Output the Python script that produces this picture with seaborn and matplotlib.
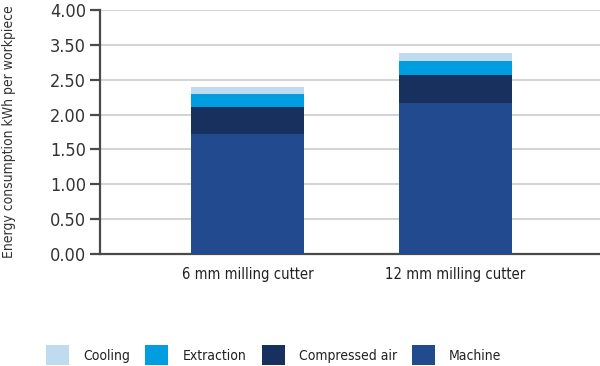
import pandas as pd
import matplotlib.pyplot as plt
import seaborn as sns
from matplotlib.patches import Patch

cutters = ['6 mm milling cutter', '12 mm milling cutter']
machine = [1.72, 2.16]
compressed_air = [0.39, 0.41]
extraction = [0.19, 0.20]
cooling = [0.09, 0.11]

tick_values = [0, 0.5, 1.0, 1.5, 2.0, 2.5, 3.0, 3.5]
tick_labels = ['0.00', '0.50', '1.00', '1.50', '2.00', '2.50', '3.50', '4.00']

series = ['Cooling', 'Extraction', 'Compressed air', 'Machine']
colors = {'Cooling': '#c0daf0', 'Extraction': '#009ee0',
          'Compressed air': '#17305e', 'Machine': '#224b8f'}

sns.set_style('white')
plt.rcParams['font.family'] = ['DejaVu Sans']
plt.rcParams['font.stretch'] = 'condensed'

df = pd.DataFrame({'cutter': cutters, 'Machine': machine,
                   'Compressed air': compressed_air, 'Extraction': extraction,
                   'Cooling': cooling})
# cumulative heights for stacking (bottom -> top)
df['Compressed air_cum'] = df['Machine'] + df['Compressed air']
df['Extraction_cum'] = df['Compressed air_cum'] + df['Extraction']
df['Cooling_cum'] = df['Extraction_cum'] + df['Cooling']
df['Machine_cum'] = df['Machine']

fig, ax = plt.subplots(figsize=(6, 3.66), dpi=100)
fig.subplots_adjust(left=0.167, right=1.0, bottom=0.306, top=0.973)

for s in series:
    sns.barplot(data=df, x='cutter', y=s + '_cum', color=colors[s],
                width=0.543, saturation=1, linewidth=0, ax=ax, zorder=3)

ax.set_ylim(0, 3.5)
ax.set_xlim(-0.709, 1.695)
ax.set_yticks(tick_values)
ax.set_yticklabels(tick_labels)
ax.yaxis.grid(True, color='#d4d4d4', linewidth=1.4, zorder=0)
ax.set_axisbelow(True)

for side in ['top', 'right']:
    ax.spines[side].set_visible(False)
ax.spines['left'].set_color('#4a4a4a')
ax.spines['left'].set_linewidth(1.6)
ax.spines['bottom'].set_color('#4a4a4a')
ax.spines['bottom'].set_linewidth(1.6)

ax.tick_params(axis='y', left=True, length=7, width=1.6, color='#4a4a4a',
               labelsize=13, labelcolor='#333333', pad=3)
ax.tick_params(axis='x', bottom=False, labelsize=10.6, labelcolor='#222222', pad=6)

ax.set_xlabel('')
ax.set_ylabel('Energy consumption kWh per workpiece', fontsize=10,
              color='#333333')
ax.yaxis.set_label_coords(-0.168, 0.5)

handles = [Patch(facecolor=colors[s], edgecolor='none') for s in series]
fig.legend(handles, series, loc='lower left', ncol=4, frameon=False,
           bbox_to_anchor=(46 / 600, 1 / 366), fontsize=10, handlelength=1.66,
           handleheight=1.8, handletextpad=1.0, columnspacing=1.12,
           borderpad=0, borderaxespad=0, labelcolor='#222222')

fig.savefig('out.png', dpi=100)
